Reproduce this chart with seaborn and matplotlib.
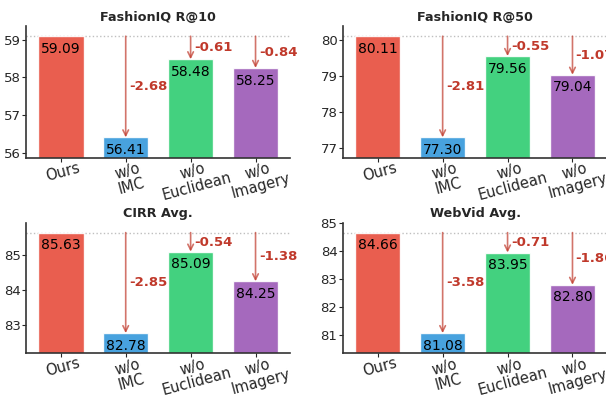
import seaborn as sns
import matplotlib.pyplot as plt
import matplotlib.ticker as mticker
import pandas as pd
import numpy as np

# Data
methods = ['Ours', 'w/o\nIMC', 'w/o\nEuclidean', 'w/o\nImagery']
titles = ['FashionIQ R@10', 'FashionIQ R@50', 'CIRR Avg.', 'WebVid Avg.']
fiq_r10 = [59.09, 56.41, 58.48, 58.25]
fiq_r50 = [80.11, 77.30, 79.56, 79.04]
cirr_avg = [85.63, 82.78, 85.09, 84.25]
webvid_avg = [84.66, 81.08, 83.95, 82.80]
all_scores = [fiq_r10, fiq_r50, cirr_avg, webvid_avg]

colors = ['#e74c3c', '#3498db', '#2ecc71', '#9b59b6']
arrow_color = '#c0392b'

sns.set_style('white')
plt.rcParams['font.family'] = ['DejaVu Sans']

fig = plt.figure(figsize=(6.06, 3.96), dpi=100)
positions = [
    [0.043, 0.602, 0.436, 0.332],
    [0.566, 0.602, 0.436, 0.332],
    [0.043, 0.108, 0.436, 0.330],
    [0.566, 0.108, 0.436, 0.330],
]

for pos, title, scores in zip(positions, titles, all_scores):
    ax = fig.add_axes(pos)
    df = pd.DataFrame({'Method': methods, 'Score': scores})
    sns.barplot(data=df, x='Method', y='Score', hue='Method', palette=colors,
                width=0.7, alpha=0.9, saturation=1, legend=False, ax=ax)

    top = scores[0]
    rng = top - min(scores)
    ax.set_ylim(min(scores) - 0.2 * rng, top + 0.1 * rng)
    ax.set_xlim(-0.535, len(methods) - 0.465)
    ax.yaxis.set_major_locator(mticker.MultipleLocator(1))

    # reference line at our score
    ax.axhline(top, color='gray', linestyle=':', linewidth=1, alpha=0.5, zorder=0)

    for i, v in enumerate(scores):
        ax.annotate(f'{v:.2f}', xy=(i, v), xytext=(0, -4), textcoords='offset points',
                    ha='center', va='top', fontsize=10, color='black')
        if i == 0:
            continue
        ax.annotate('', xy=(i, v), xytext=(i, top),
                    arrowprops=dict(arrowstyle='->', color=arrow_color, lw=1.2, alpha=0.7,
                                    shrinkA=0, shrinkB=0))
        ax.text(i + 0.05, (top + v) / 2, f'{v - top:.2f}', ha='left', va='center',
                fontsize=9.5, fontweight='bold', color=arrow_color, clip_on=False)

    ax.set_title(title, fontsize=9.2, fontweight='bold', pad=4)
    ax.set_xlabel('')
    ax.set_ylabel('')
    ax.tick_params(axis='x', labelsize=10.5, length=3, bottom=True, pad=2)
    for lab in ax.get_xticklabels():
        lab.set_rotation(15)
        lab.set_rotation_mode('anchor')
        lab.set_ha('center')
        lab.set_va('top')
        lab.set_linespacing(1.0)
    ax.tick_params(axis='y', labelsize=9.5, length=3, left=True, pad=1)
    sns.despine(ax=ax)
    for s in ['left', 'bottom']:
        ax.spines[s].set_color('#333333')
        ax.spines[s].set_linewidth(1.2)

plt.savefig('out.png', dpi=100)
